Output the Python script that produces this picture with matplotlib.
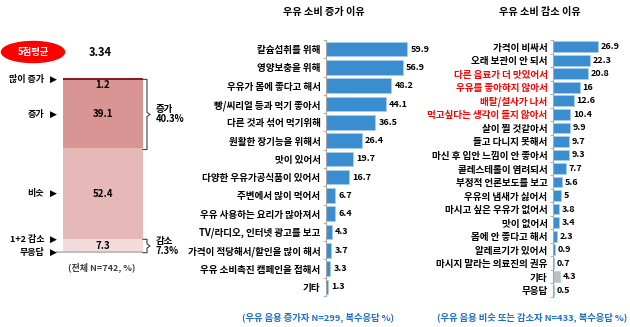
import matplotlib
matplotlib.use('Agg')
import numpy as np
import matplotlib.pyplot as plt
from matplotlib.patches import Ellipse

plt.rcParams['font.family'] = ['Noto Sans CJK KR', 'DejaVu Sans']

W, H = 630, 327

# left: overall change in milk consumption (stacked %)
change_labels = ['많이 증가', '증가', '비슷', '감소']
change_values = [1.2, 39.1, 52.4, 7.3]
change_colors = ['#7F1F1F', '#D99594', '#E6B8B7', '#F2DCDB']
avg_score = 3.34

# middle: reasons for increase
inc_labels = ['칼슘섭취를 위해', '영양보충을 위해', '우유가 몸에 좋다고 해서',
              '빵/씨리얼 등과 먹기 좋아서', '다른 것과 섞어 먹기위해',
              '원활한 장기능을 위해서', '맛이 있어서', '다양한 우유가공식품이 있어서',
              '주변에서 많이 먹어서', '우유 사용하는 요리가 많아져서',
              'TV/라디오, 인터넷 광고를 보고', '가격이 적당해서/할인을 많이 해서',
              '우유 소비촉진 캠페인을 접해서', '기타']
inc_values = [59.9, 56.9, 48.2, 44.1, 36.5, 26.4, 19.7, 16.7, 6.7, 6.4, 4.3, 3.7, 3.3, 1.3]

# right: reasons for same / decrease
dec_labels = ['가격이 비싸서', '오래 보관이 안 되서', '다른 음료가 더 맛있어서',
              '우유를 좋아하지 않아서', '배탈/설사가 나서', '먹고싶다는 생각이 들지 않아서',
              '살이 찔 것같아서', '들고 다니지 못해서', '마신 후 입안 느낌이 안 좋아서',
              '콜레스테롤이 염려되서', '부정적 언론보도를 보고', '우유의 냄새가 싫어서',
              '마시고 싶은 우유가 없어서', '맛이 없어서', '몸에 안 좋다고 해서',
              '알레르기가 있어서', '마시지 말라는 의료진의 권유', '기타', '무응답']
dec_values = [26.9, 22.3, 20.8, 16, 12.6, 10.4, 9.9, 9.7, 9.3, 7.7, 5.6, 5,
              3.8, 3.4, 2.3, 0.9, 0.7, 4.3, 0.5]
dec_red = [2, 3, 4, 5]
dec_gray = [17]

BLUE = '#3A8ED0'
FOOT = '#1F6FC0'


def px_axes(fig, x0, y0, x1, y1):
    """Add axes from a pixel box (origin top-left)."""
    return fig.add_axes([x0 / W, 1 - y1 / H, (x1 - x0) / W, (y1 - y0) / H])


def hbar_panel(ax, labels, values, xmax, red=(), gray=(), fs=6.9):
    n = len(values)
    y = np.arange(n)
    colors = ['#BFBFBF' if i in gray else BLUE for i in range(n)]
    ax.barh(y, values, height=0.8, color=colors, edgecolor='#A9CFEE', linewidth=0.5)
    ax.set_xlim(0, xmax)
    ax.set_ylim(n - 0.5, -0.5)
    for s in ['top', 'right', 'bottom']:
        ax.spines[s].set_visible(False)
    ax.spines['left'].set_color('#A6A6A6')
    ax.spines['left'].set_linewidth(0.8)
    ax.set_xticks([])
    ax.set_yticks(y)
    ax.set_yticklabels(labels, fontsize=fs, fontweight='bold')
    ax.tick_params(axis='y', length=0, pad=4)
    ax.set_yticks(np.arange(n + 1) - 0.5, minor=True)
    ax.tick_params(axis='y', which='minor', length=2.5, color='#A6A6A6')
    for i, t in enumerate(ax.get_yticklabels()):
        if i in red:
            t.set_color('#FF0000')
    off = xmax * 0.06
    for i, v in enumerate(values):
        ax.text(v + off * 0.6, i, f'{v:g}', va='center', ha='left',
                fontsize=6.5, fontweight='bold')


def main():
    fig = plt.figure(figsize=(W / 100, H / 100), dpi=100)

    # overlay for free text, in pixel units
    ov = fig.add_axes([0, 0, 1, 1])
    ov.set_xlim(0, W)
    ov.set_ylim(H, 0)
    ov.axis('off')

    # ---- left stacked bar
    ax = px_axes(fig, 0, 78, 200, 252)
    ax.set_xlim(0, 200)
    ax.set_ylim(100, 0)
    ax.axis('off')
    bottoms = np.concatenate([[0], np.cumsum(change_values)[:-1]])
    ax.bar([103] * 4, change_values, bottom=bottoms, width=80,
           color=change_colors, align='center')
    ax.hlines(100, 56, 143, color='#BFBFBF', linewidth=1.5, clip_on=False)
    for b, v in zip(bottoms, change_values):
        yy = b + v / 2 if v > 3 else b + v + 2.6
        ax.text(103, yy, f'{v:g}', ha='center', va='center', fontsize=7,
                fontweight='bold')

    side = [('많이 증가', bottoms[0] + 0.6), ('증가', bottoms[1] + change_values[1] / 2),
            ('비슷', bottoms[2] + change_values[2] / 2), ('1+2 감소', bottoms[3]),
            ('무응답', 100)]
    for lab, yy in side:
        ax.text(44, yy, lab, ha='right', va='center', fontsize=6.5,
                fontweight='bold', clip_on=False)
        ax.text(53, yy, '▶', ha='center', va='center', fontsize=6.5,
                family='DejaVu Sans', clip_on=False)

    def brace(top, bot, text):
        mid = (top + bot) / 2
        xs = [143, 147, 147, 150, 147, 147, 143]
        ys = [top, top, mid - 1.2, mid, mid + 1.2, bot, bot]
        ax.plot(xs, ys, color='#404040', linewidth=0.8, clip_on=False)
        ax.text(156, mid, text, ha='left', va='center', fontsize=6.8,
                fontweight='bold', linespacing=1.0, clip_on=False)

    grp_inc = change_values[0] + change_values[1]
    brace(0.8, grp_inc + 0.8, f'증가\n{grp_inc:.1f}%')
    brace(bottoms[3], 100.4, f'감소\n{change_values[3]:g}%')

    ov.add_patch(Ellipse((33, 52), 63, 21, color='#FF0000'))
    ov.text(33, 52, '5점평균', ha='center', va='center', color='white',
            fontsize=6.8, fontweight='bold')
    ov.text(100, 53, f'{avg_score:.2f}', ha='center', va='center',
            fontsize=8, fontweight='bold')
    ov.text(102, 267, '(전체 N=742, %)', ha='center', va='center', fontsize=6.5,
            fontweight='bold', color='#404040')

    # ---- middle panel
    axm = px_axes(fig, 326, 40, 326 + 70 * 1.35, 296)
    hbar_panel(axm, inc_labels, inc_values, 70)
    ov.text(324, 12, '우유 소비 증가 이유', ha='center', va='center',
            fontsize=7.3, fontweight='bold')
    ov.text(318, 317, '(우유 음용 증가자 N=299, 복수응답 %)', ha='center',
            va='center', fontsize=6.7, fontweight='bold', color=FOOT)

    # ---- right panel
    axr = px_axes(fig, 553, 40, 553 + 45 * 1.67, 297)
    hbar_panel(axr, dec_labels, dec_values, 45, red=dec_red, gray=dec_gray)
    ov.text(540, 12, '우유 소비 감소 이유', ha='center', va='center',
            fontsize=7.3, fontweight='bold')
    ov.text(437, 317, '(우유 음용 비슷 또는 감소자 N=433, 복수응답 %)', ha='left',
            va='center', fontsize=6.7, fontweight='bold', color=FOOT)

    fig.savefig('out.png', dpi=100)


if __name__ == '__main__':
    main()
